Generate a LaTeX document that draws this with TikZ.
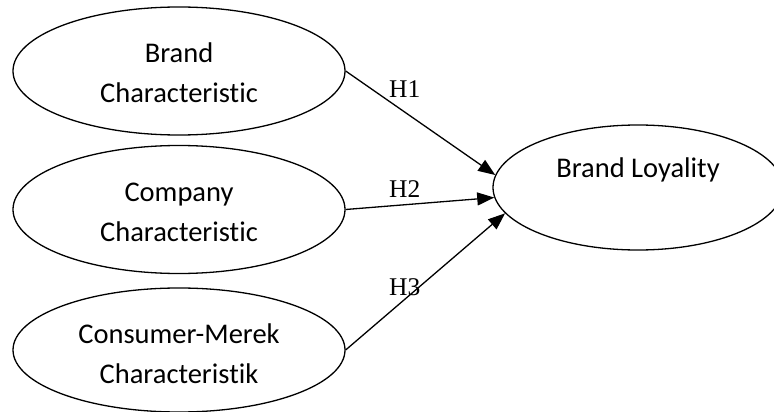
\documentclass[tikz,border=0pt]{standalone}
\usepackage{fontspec}
\setmainfont{Carlito}[Ligatures={NoCommon}]
\newfontfamily\hfont{Liberation Serif}
\usetikzlibrary{shapes.geometric,arrows.meta}
\tikzset{
  oval/.style={ellipse,draw,line width=1.3pt,inner sep=0pt,minimum width=332pt,minimum height=128pt},
  ovaltext/.style={align=center,font=\fontsize{28.5}{40}\selectfont},
  hyp/.style={anchor=base west,inner sep=0pt,font=\hfont\fontsize{25.5}{30}\selectfont},
  arr/.style={line width=1.3pt,-{Triangle[length=17pt,width=13pt]}}
}
\begin{document}
\begin{tikzpicture}[x=1pt,y=-1pt]
\useasboundingbox (0,0) rectangle (774,412);
\node[oval] (b1) at (179,71) {};
\node[oval] (b2) at (179,209.5) {};
\node[oval,minimum height=124pt] (b3) at (179,350) {};
\node[oval,minimum width=290pt,minimum height=125pt] (bl) at (638,187.5) {};
\node[ovaltext] (t1) at (179,73) {Brand\\Characteristic};
\node[ovaltext] (t2) at (179,212) {Company\\Characteristic};
\node[ovaltext] (t3) at (179,354) {Consumer-Merek\\Characteristik};
\node[ovaltext] (tl) at (638,170) {Brand Loyality};
\draw[arr] (b1.east) -- (bl.175.9);
\draw[arr] (b2.east) -- (bl.184.1);
\draw[arr] (b3.east) -- (bl.191);
\node[hyp] (h1) at (389,98) {H1};
\node[hyp] (h2) at (389,197) {H2};
\node[hyp] (h3) at (389,295) {H3};
\end{tikzpicture}
\end{document}
